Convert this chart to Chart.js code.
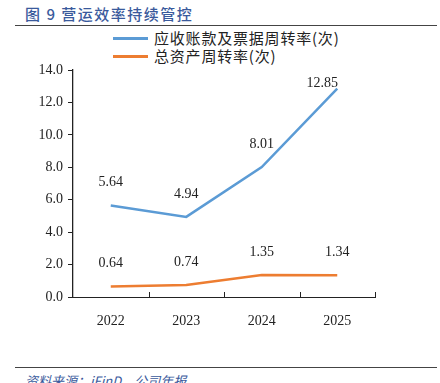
<!DOCTYPE html>
<html>
<head>
<meta charset="utf-8">
<script src="https://cdn.jsdelivr.net/npm/chart.js@4"></script>
<style>
  body { margin: 0; width: 440px; height: 383px; overflow: hidden; background: #fff; position: relative; font-family: "Noto Sans CJK SC", sans-serif; }
  #title { position: absolute; left: 25px; top: 3px; font-size: 15px; color: #3a5a9c; font-weight: 500; letter-spacing: 1.5px; }
  .rule { position: absolute; left: 15px; width: 422px; height: 1px; background: #444; }
  #legend { position: absolute; left: 113px; top: 29px; font-size: 15px; letter-spacing: 0.8px; color: #222; line-height: 18px; }
  #legend .item { display: flex; align-items: center; }
  #legend .sw { width: 35px; height: 3px; margin-right: 6px; }
  #source { position: absolute; left: 25px; top: 371px; font-size: 13px; color: #3a5a9c; font-style: italic; }
  #wrap { position: absolute; left: 0; top: 0; width: 440px; height: 383px; }
</style>
</head>
<body>
<div id="title">图 9 营运效率持续管控</div>
<div class="rule" style="top:25px"></div>
<div id="legend"></div>
<div class="rule" style="top:367px"></div>
<div id="source">资料来源：iFinD，公司年报</div>
<div id="wrap"><canvas id="chart" width="440" height="383"></canvas></div>
<script>
const years = ["2022", "2023", "2024", "2025"];
const receivableTurnover = [5.64, 4.94, 8.01, 12.85];
const assetTurnover = [0.64, 0.74, 1.35, 1.34];
const seriesNames = ["应收账款及票据周转率(次)", "总资产周转率(次)"];
const colors = ["#5b9bd5", "#ed7d31"];
const serif = "'Liberation Serif', 'DejaVu Serif', serif";

document.getElementById("legend").innerHTML = seriesNames.map((n, i) =>
  `<div class="item"><span class="sw" style="background:${colors[i]}"></span>${n}</div>`).join("");

// value labels above each point
const pointLabels = {
  id: "pointLabels",
  afterDatasetsDraw(chart) {
    const ctx = chart.ctx;
    ctx.save();
    ctx.font = "14px " + serif;
    ctx.fillStyle = "#222";
    ctx.textAlign = "center";
    ctx.textBaseline = "middle";
    chart.data.datasets.forEach((ds, di) => {
      chart.getDatasetMeta(di).data.forEach((pt, i) => {
        let x = pt.x, y = pt.y - 23;
        if (y < chart.chartArea.top + 10) { x -= 15; y = pt.y - 5; }
        ctx.fillText(ds.data[i].toFixed(2), x, y);
      });
    });
    ctx.restore();
  }
};

// small inward tick marks on the category axis
const innerTicks = {
  id: "innerTicks",
  afterDraw(chart) {
    const xs = chart.scales.x, ctx = chart.ctx;
    const bottom = chart.chartArea.bottom;
    const half = (xs.getPixelForTick(1) - xs.getPixelForTick(0)) / 2;
    ctx.save();
    ctx.strokeStyle = "#222";
    ctx.lineWidth = 1;
    for (let i = 0; i < years.length; i++) {
      const x = Math.round(xs.getPixelForTick(i) + half) + 0.5;
      ctx.beginPath();
      ctx.moveTo(x, bottom);
      ctx.lineTo(x, bottom - 5);
      ctx.stroke();
    }
    ctx.restore();
  }
};

new Chart(document.getElementById("chart"), {
  type: "line",
  data: {
    labels: years,
    datasets: [
      { label: seriesNames[0], data: receivableTurnover, borderColor: colors[0], borderWidth: 2.5, pointRadius: 0, tension: 0 },
      { label: seriesNames[1], data: assetTurnover, borderColor: colors[1], borderWidth: 2.5, pointRadius: 0, tension: 0 }
    ]
  },
  options: {
    responsive: false,
    animation: false,
    layout: { padding: { left: 0, right: 65, top: 70, bottom: 0 } },
    plugins: { legend: { display: false }, tooltip: { enabled: false } },
    scales: {
      x: {
        offset: true,
        grid: { display: false, drawTicks: false },
        border: { color: "#222", width: 1 },
        ticks: { padding: 16, color: "#222", font: { family: serif, size: 14 } },
        afterFit(s) { s.height = 86; }
      },
      y: {
        min: 0, max: 14,
        grid: { drawOnChartArea: false, tickLength: 5, color: "#222" },
        border: { color: "#222", width: 1.3 },
        ticks: { stepSize: 2, padding: 5, color: "#222", font: { family: serif, size: 14 }, callback: v => v.toFixed(1) },
        afterFit(s) { s.width = 73; }
      }
    }
  },
  plugins: [pointLabels, innerTicks]
});
</script>
</body>
</html>
